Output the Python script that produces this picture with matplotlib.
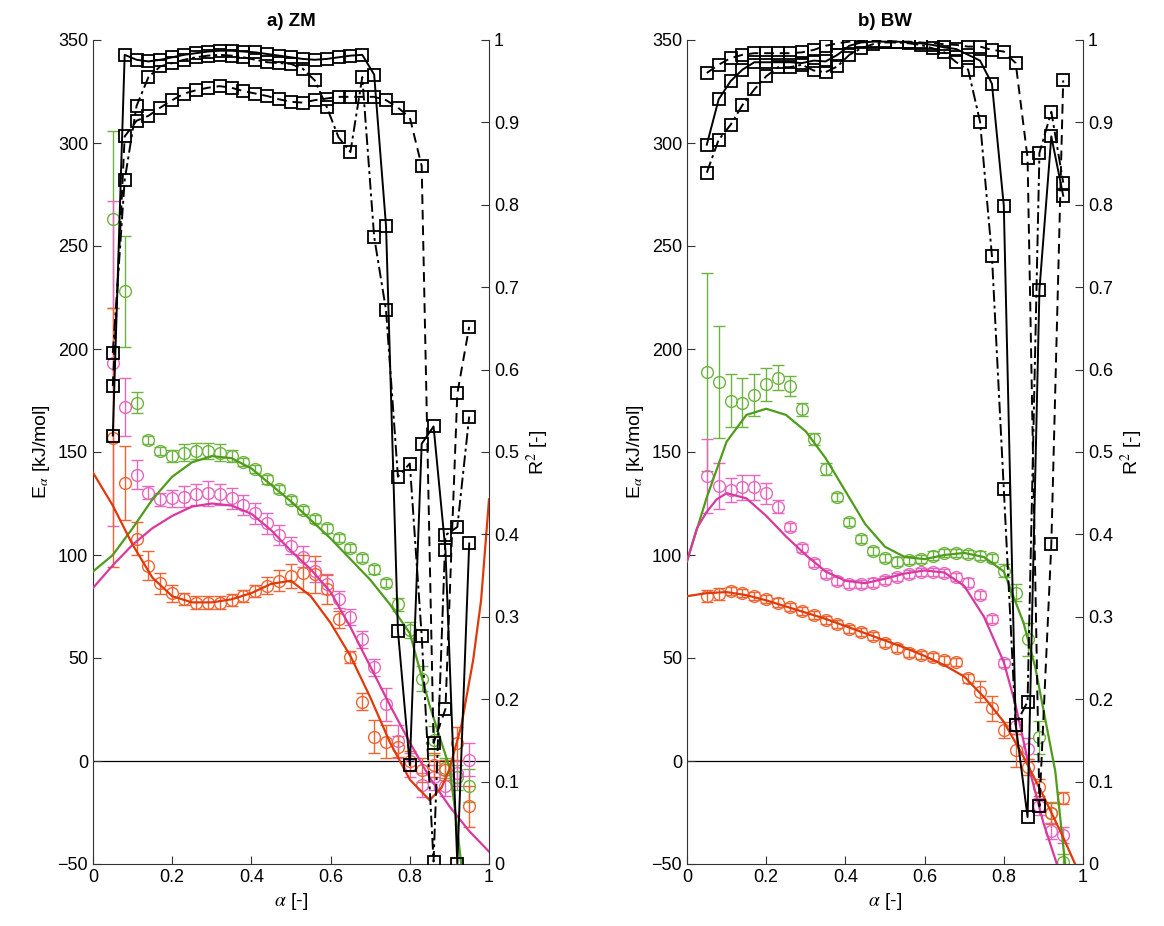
import matplotlib
matplotlib.use("Agg")
import matplotlib.pyplot as plt

plt.rcParams["font.family"] = ["Liberation Sans", "DejaVu Sans"]
plt.rcParams["mathtext.fontset"] = "stix"

# conversion degree grid (same for all symbols)
alpha = [0.05, 0.08, 0.11, 0.14, 0.17, 0.20, 0.23, 0.26, 0.29, 0.32, 0.35,
         0.38, 0.41, 0.44, 0.47, 0.50, 0.53, 0.56, 0.59, 0.62, 0.65, 0.68,
         0.71, 0.74, 0.77, 0.80, 0.83, 0.86, 0.89, 0.92, 0.95]

# ---- a) ZM : activation energies ----
zm_green = [263, 228, 174, 156, 150.6, 148, 149.7, 150.5, 150.6, 149.7, 148,
            145.3, 141.6, 136.7, 131.9, 126.7, 121.8, 117.3, 112.9, 108.1, 103.5,
            98.7, 93, 86.3, 76, 63.6, 40, 10, -3.4, -8, -12]
zm_green_err = [43, 27, 5, 2, 2, 3, 4, 4, 4, 4, 3, 2, 2, 2, 2, 2, 2, 2, 2, 2, 2,
                2, 2, 2, 3, 4, 6, 7, 5, 6, 8]
zm_pink = [193, 172, 139, 130.3, 127, 127.5, 128.3, 129.5, 130, 129.5, 127.5,
           124.3, 120.2, 115.4, 109.7, 104.5, 99.2, 92, 86, 78.5, 69.8, 59, 45.5,
           27.5, 9.5, -2, -11.7, -8, -12, -6, 0.5]
zm_pink_err = [79, 14, 7, 3, 3, 4, 5, 5, 6, 5, 5, 5, 5, 5, 5, 4, 5, 5, 5, 4, 4,
               4, 4, 8, 8, 6, 6, 6, 5, 6, 8]
zm_orange = [157, 135, 108, 94.7, 86.3, 81.4, 78.5, 76.9, 76.9, 76.9, 78.2, 80.1,
             82.5, 85.1, 87.5, 89.8, 91.1, 90.6, 83.3, 68.8, 50.6, 28.8, 11.8,
             9.4, 7, 0, -4.4, -1.9, -4.4, 8.6, -22]
zm_orange_err = [63, 18, 8, 7, 5, 4, 3, 3, 3, 3, 3, 3, 3, 4, 5, 6, 9, 9, 7, 4, 3,
                 4, 8, 8, 5, 5, 6, 6, 5, 8, 10]

zm_green_fit_x = [0, 0.05, 0.1, 0.15, 0.2, 0.25, 0.3, 0.35, 0.4, 0.45, 0.5, 0.55,
                  0.6, 0.65, 0.7, 0.75, 0.8, 0.85, 0.9, 0.915, 0.93]
zm_green_fit = [92, 100, 113, 127, 138, 145, 148, 147, 142, 134, 126, 117, 108, 98,
                88, 76, 62, 27, -3, -25, -50]
zm_pink_fit_x = [0, 0.05, 0.1, 0.15, 0.2, 0.25, 0.3, 0.35, 0.4, 0.45, 0.5, 0.55,
                 0.6, 0.65, 0.7, 0.75, 0.8, 0.85, 0.9, 0.95, 1.0]
zm_pink_fit = [84, 95, 105, 113, 119, 123.5, 125, 124, 120, 112, 102, 93, 82, 65,
               46, 27, 9, -8, -22, -34, -44]
zm_orange_fit_x = [0, 0.05, 0.1, 0.15, 0.2, 0.25, 0.3, 0.35, 0.4, 0.45, 0.5, 0.55,
                   0.6, 0.65, 0.7, 0.75, 0.8, 0.85, 0.88, 0.9, 0.93, 0.96, 0.98, 1.0]
zm_orange_fit = [140, 124, 105, 89, 80, 77, 77, 78.5, 81.5, 86, 87.5, 80, 67, 51,
                 31, 9, -9, -19, -13, -4, 17, 49, 78, 127]

# ---- a) ZM : R2 ----
zm_r2_solid = [0.52, 0.982, 0.976, 0.974, 0.976, 0.979, 0.982, 0.984, 0.986, 0.987,
               0.987, 0.986, 0.985, 0.983, 0.981, 0.979, 0.977, 0.976, 0.977, 0.979,
               0.981, 0.982, 0.958, 0.774, 0.283, 0.12, 0.51, 0.531, 0.381, 0.0, 0.389]
zm_r2_dash = [0.58, 0.883, 0.902, 0.908, 0.918, 0.927, 0.935, 0.939, 0.942, 0.944,
              0.942, 0.938, 0.935, 0.932, 0.928, 0.925, 0.924, 0.927, 0.929, 0.931,
              0.931, 0.931, 0.931, 0.927, 0.918, 0.906, 0.847, 0.147, 0.188, 0.571, 0.652]
zm_r2_dashdot = [0.62, 0.83, 0.92, 0.955, 0.968, 0.972, 0.976, 0.979, 0.981, 0.982,
                 0.981, 0.979, 0.976, 0.973, 0.972, 0.971, 0.965, 0.951, 0.919, 0.882,
                 0.864, 0.955, 0.761, 0.672, 0.47, 0.486, 0.277, 0.003, 0.399, 0.409, 0.543]

# ---- b) BW : activation energies ----
bw_green = [189, 184, 175, 174, 177.7, 183, 186, 182, 170.7, 156.2, 141.6, 128,
            116.2, 107.6, 102.1, 98.4, 96.8, 97.6, 98.1, 99.7, 101.1, 100.8, 100.5,
            99.7, 98.4, 92.4, 81.7, 59, 11.5, -25, -49]
bw_green_err = [48, 27, 13, 12, 10, 8, 6, 5, 3, 3, 3, 2, 2, 2, 2, 2, 2, 2, 2, 2, 2,
                2, 2, 2, 2, 3, 4, 8, 8, 5, 4]
bw_pink = [138.3, 133.5, 131.6, 132.8, 132.8, 129.9, 123.5, 113.5, 103.3, 96, 90.6,
           87.4, 85.9, 85.9, 86.6, 87.9, 89.2, 90.8, 91.9, 91.9, 91.1, 89.2, 86.6,
           80.6, 68.8, 47.5, 17, 6, -22, -34, -36]
bw_pink_err = [18, 11, 6, 6, 6, 5, 3, 2, 2, 2, 2, 2, 2, 2, 2, 2, 2, 2, 2, 2, 2, 2,
               2, 2, 2, 2, 4, 5, 4, 4, 4]
bw_orange = [80.1, 81, 82.7, 81.4, 80.1, 78.5, 76.9, 74.9, 73, 70.9, 68.4, 66.4, 64,
             62.8, 60.7, 57.1, 54.7, 52.6, 51.5, 50.6, 49, 48.2, 40.1, 33.7, 25.6,
             15, 5.3, -2.8, -12.8, -25.4, -18]
bw_orange_err = [3, 3, 2, 2, 2, 2, 2, 2, 2, 2, 2, 2, 2, 2, 2, 2, 2, 2, 2, 2, 2, 2,
                 2, 5, 6, 4, 8, 4, 4, 5, 3]

bw_green_fit_x = [0, 0.05, 0.1, 0.15, 0.2, 0.25, 0.3, 0.35, 0.4, 0.45, 0.5, 0.55,
                  0.6, 0.65, 0.7, 0.75, 0.8, 0.85, 0.88, 0.9, 0.93, 0.955]
bw_green_fit = [97, 128, 155, 168, 171, 168, 160, 147, 131, 115, 104, 99, 98, 100,
                101, 99, 92, 67, 45, 25, -5, -50]
bw_pink_fit_x = [0, 0.025, 0.05, 0.075, 0.1, 0.15, 0.2, 0.25, 0.3, 0.35, 0.4, 0.45,
                 0.5, 0.55, 0.6, 0.65, 0.7, 0.75, 0.8, 0.83, 0.87, 0.9, 0.934]
bw_pink_fit = [97, 113, 121, 127, 130, 127.5, 119, 109, 100, 92, 87.5, 86.3, 88.5,
               91, 92.5, 91.5, 85, 70, 48, 27, -8, -30, -50]
bw_orange_fit_x = [0, 0.05, 0.1, 0.15, 0.2, 0.25, 0.3, 0.35, 0.4, 0.45, 0.5, 0.55,
                   0.6, 0.65, 0.7, 0.75, 0.8, 0.85, 0.9, 0.95, 0.98]
bw_orange_fit = [80, 81.5, 82, 80.5, 78, 75, 72, 69, 65.5, 62, 58.5, 55, 51, 46.5,
                 41, 31, 19, 2, -17, -37, -50]

# ---- b) BW : R2 ----
bw_r2_solid = [0.873, 0.928, 0.95, 0.964, 0.973, 0.973, 0.973, 0.973, 0.972, 0.975,
               0.974, 0.982, 0.993, 0.997, 0.998, 0.998, 0.998, 0.997, 0.996, 0.994,
               0.991, 0.989, 0.982, 0.975, 0.947, 0.799, 0.169, 0.057, 0.697, 0.883, 0.811]
bw_r2_dash = [0.96, 0.97, 0.978, 0.982, 0.984, 0.984, 0.984, 0.984, 0.985, 0.988,
              0.993, 0.996, 0.998, 0.999, 0.999, 0.999, 0.998, 0.998, 0.997, 0.996,
              0.995, 0.994, 0.992, 0.992, 0.988, 0.986, 0.972, 0.857, 0.07, 0.388, 0.951]
bw_r2_dashdot = [0.839, 0.879, 0.897, 0.921, 0.94, 0.956, 0.967, 0.967, 0.97, 0.963,
                 0.961, 0.968, 0.982, 0.99, 0.995, 0.997, 0.997, 0.996, 0.994, 0.99,
                 0.985, 0.973, 0.964, 0.901, 0.738, 0.455, 0.169, 0.197, 0.863, 0.913, 0.827]

GREEN_LINE, GREEN_MK = "#4f9c1c", "#6db33f"
PINK_LINE, PINK_MK = "#d9399e", "#e667bd"
ORANGE_LINE, ORANGE_MK = "#e03a0a", "#f06432"


def draw_panel(ax, title, E_sets, fits, r2_sets):
    ax.axhline(0, color="black", lw=0.9, zorder=1)
    for (y, err, color) in E_sets:
        ax.errorbar(alpha, y, yerr=err, fmt="o", ms=8.5, mfc="none", mec=color,
                    mew=1.0, ecolor=color, elinewidth=1.0, capsize=4, capthick=1.0,
                    zorder=2)
    for (fx, fy, color) in fits:
        ax.plot(fx, fy, color=color, lw=1.6, zorder=3)

    ax.set_xlim(0, 1)
    ax.set_ylim(-50, 350)
    ax.set_xticks([0, 0.2, 0.4, 0.6, 0.8, 1])
    ax.set_xticklabels(["0", "0.2", "0.4", "0.6", "0.8", "1"])
    ax.set_yticks(range(-50, 351, 50))
    ax.spines["top"].set_visible(False)
    ax.spines["right"].set_visible(False)
    ax.tick_params(direction="in", length=6, labelsize=13, colors="#333333",
                   labelcolor="black")
    ax.set_xlabel(r"$\alpha$ [-]", fontsize=14)
    ax.set_ylabel(r"E$_\alpha$ [kJ/mol]", fontsize=14)
    ax.set_title(title, fontsize=13.5, fontweight="bold", pad=10)

    ax2 = ax.twinx()
    styles = ["-", (0, (5, 3)), (0, (6, 2, 1.5, 2))]
    for r2, ls in zip(r2_sets, styles):
        ax2.plot(alpha, r2, color="black", ls=ls, lw=1.4, marker="s", ms=8,
                 mfc="none", mec="black", mew=1.3)
    ax2.set_ylim(0, 1)
    ax2.set_yticks([0, 0.1, 0.2, 0.3, 0.4, 0.5, 0.6, 0.7, 0.8, 0.9, 1])
    ax2.set_yticklabels(["0", "0.1", "0.2", "0.3", "0.4", "0.5", "0.6", "0.7",
                         "0.8", "0.9", "1"])
    for s in ["top", "left", "bottom"]:
        ax2.spines[s].set_visible(False)
    for s in ["left", "bottom", "right"]:
        ax.spines[s].set_color("#333333")
    ax2.spines["right"].set_color("#333333")
    ax2.tick_params(direction="in", length=6, labelsize=13, colors="#333333",
                    labelcolor="black")
    ax2.set_ylabel(r"R$^2$ [-]", fontsize=14)


fig = plt.figure(figsize=(11.64, 9.26), dpi=100)
ax_a = fig.add_axes([93 / 1164, 62 / 926, 396 / 1164, 824 / 926])
ax_b = fig.add_axes([687 / 1164, 62 / 926, 396 / 1164, 824 / 926])

draw_panel(
    ax_a, "a) ZM",
    [(zm_green, zm_green_err, GREEN_MK), (zm_pink, zm_pink_err, PINK_MK),
     (zm_orange, zm_orange_err, ORANGE_MK)],
    [(zm_green_fit_x, zm_green_fit, GREEN_LINE), (zm_pink_fit_x, zm_pink_fit, PINK_LINE),
     (zm_orange_fit_x, zm_orange_fit, ORANGE_LINE)],
    [zm_r2_solid, zm_r2_dash, zm_r2_dashdot],
)
draw_panel(
    ax_b, "b) BW",
    [(bw_green, bw_green_err, GREEN_MK), (bw_pink, bw_pink_err, PINK_MK),
     (bw_orange, bw_orange_err, ORANGE_MK)],
    [(bw_green_fit_x, bw_green_fit, GREEN_LINE), (bw_pink_fit_x, bw_pink_fit, PINK_LINE),
     (bw_orange_fit_x, bw_orange_fit, ORANGE_LINE)],
    [bw_r2_solid, bw_r2_dash, bw_r2_dashdot],
)

fig.savefig("out.png", dpi=100)
